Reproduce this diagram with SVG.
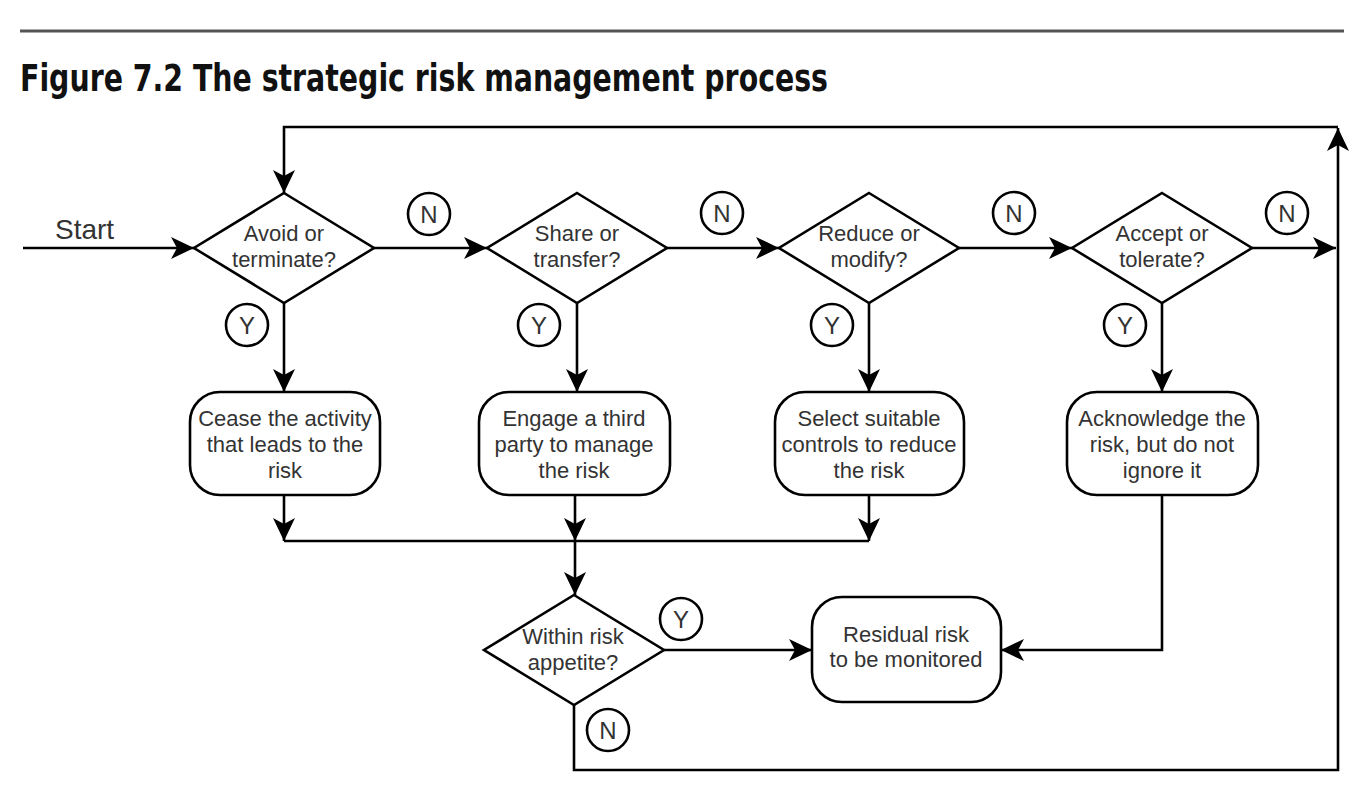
<svg xmlns="http://www.w3.org/2000/svg" width="1364" height="792" viewBox="0 0 1364 792">
<style>
.shape{fill:#fff;stroke:#000;stroke-width:2.6}
.line{fill:none;stroke:#000;stroke-width:2.6}
.arr{marker-end:url(#ah)}
.t{font-family:"Liberation Sans",Arial,sans-serif;font-size:22px;fill:#333;text-anchor:middle}
.lbl{font-family:"Liberation Sans",Arial,sans-serif;font-size:24px;fill:#333;text-anchor:middle}
</style>
<defs>
<marker id="ah" markerUnits="userSpaceOnUse" markerWidth="26" markerHeight="26" viewBox="-24 -12 26 24" refX="0" refY="0" orient="auto">
<path d="M0,0 L-23,-11 L-17,0 L-23,11 Z" fill="#000"/>
</marker>
</defs>
<rect width="1364" height="792" fill="#fff"/>
<line x1="20" y1="31" x2="1344" y2="31" stroke="#555" stroke-width="3"/>
<text x="20" y="91" font-family="'DejaVu Sans Condensed','DejaVu Sans','Liberation Sans',sans-serif" font-weight="bold" font-size="37" fill="#111" textLength="808" lengthAdjust="spacingAndGlyphs">Figure 7.2 The strategic risk management process</text>
<text x="55" y="239" font-family="'Liberation Sans',Arial,sans-serif" font-size="28" fill="#333">Start</text>

<g id="connectors">
<path class="line arr" d="M23,248 H194"/>
<path class="line arr" d="M374,248 H487"/>
<path class="line arr" d="M667,248 H779"/>
<path class="line arr" d="M959,248 H1072"/>
<path class="line arr" d="M1252,248 H1336"/>
<path class="line arr" d="M284,303 V392"/>
<path class="line arr" d="M577,303 V392"/>
<path class="line arr" d="M869,303 V392"/>
<path class="line arr" d="M1162,303 V392"/>
<path class="line arr" d="M284,495 V541"/>
<path class="line arr" d="M575,495 V541"/>
<path class="line arr" d="M869,495 V541"/>
<path class="line" d="M284,541 H869"/>
<path class="line arr" d="M575,541 V595"/>
<path class="line arr" d="M664,650 H812"/>
<path class="line arr" d="M1162,495 V650 H1001"/>
<path class="line arr" d="M574,705 V770 H1338 V128"/>
<path class="line arr" d="M1338,127 H284 V193"/>
</g>

<g id="avoid">
<polygon class="shape" points="284,193 374,248 284,303 194,248"/>
<text class="t" x="284" y="241">Avoid or</text>
<text class="t" x="284" y="267">terminate?</text>
</g>
<g id="share">
<polygon class="shape" points="577,193 667,248 577,303 487,248"/>
<text class="t" x="577" y="241">Share or</text>
<text class="t" x="577" y="267">transfer?</text>
</g>
<g id="reduce">
<polygon class="shape" points="869,193 959,248 869,303 779,248"/>
<text class="t" x="869" y="241">Reduce or</text>
<text class="t" x="869" y="267">modify?</text>
</g>
<g id="accept">
<polygon class="shape" points="1162,193 1252,248 1162,303 1072,248"/>
<text class="t" x="1162" y="241">Accept or</text>
<text class="t" x="1162" y="267">tolerate?</text>
</g>

<g id="cease">
<rect class="shape" x="190" y="392" width="190" height="103" rx="30"/>
<text class="t" x="285" y="426">Cease the activity</text>
<text class="t" x="285" y="452">that leads to the</text>
<text class="t" x="285" y="478">risk</text>
</g>
<g id="engage">
<rect class="shape" x="479" y="392" width="191" height="103" rx="30"/>
<text class="t" x="574" y="426">Engage a third</text>
<text class="t" x="574" y="452">party to manage</text>
<text class="t" x="574" y="478">the risk</text>
</g>
<g id="select">
<rect class="shape" x="775" y="392" width="189" height="103" rx="30"/>
<text class="t" x="869" y="426">Select suitable</text>
<text class="t" x="869" y="452">controls to reduce</text>
<text class="t" x="869" y="478">the risk</text>
</g>
<g id="acknowledge">
<rect class="shape" x="1067" y="392" width="191" height="103" rx="30"/>
<text class="t" x="1162" y="426">Acknowledge the</text>
<text class="t" x="1162" y="452">risk, but do not</text>
<text class="t" x="1162" y="478">ignore it</text>
</g>

<g id="within">
<polygon class="shape" points="574,595 664,650 574,705 484,650"/>
<text class="t" x="573" y="644">Within risk</text>
<text class="t" x="573" y="670">appetite?</text>
</g>
<g id="residual">
<rect class="shape" x="812" y="597" width="189" height="105" rx="30"/>
<text class="t" x="906" y="642">Residual risk</text>
<text class="t" x="906" y="667">to be monitored</text>
</g>

<g id="labels">
<circle class="shape" cx="429" cy="214" r="21"/><text class="lbl" x="429" y="222.5">N</text>
<circle class="shape" cx="722" cy="213" r="21"/><text class="lbl" x="722" y="221.5">N</text>
<circle class="shape" cx="1014" cy="213" r="21"/><text class="lbl" x="1014" y="221.5">N</text>
<circle class="shape" cx="1287" cy="213" r="21"/><text class="lbl" x="1287" y="221.5">N</text>
<circle class="shape" cx="247" cy="325" r="21"/><text class="lbl" x="247" y="333.5">Y</text>
<circle class="shape" cx="539" cy="325" r="21"/><text class="lbl" x="539" y="333.5">Y</text>
<circle class="shape" cx="832" cy="325" r="21"/><text class="lbl" x="832" y="333.5">Y</text>
<circle class="shape" cx="1125" cy="325" r="21"/><text class="lbl" x="1125" y="333.5">Y</text>
<circle class="shape" cx="681" cy="619" r="21"/><text class="lbl" x="681" y="627.5">Y</text>
<circle class="shape" cx="608" cy="730" r="21"/><text class="lbl" x="608" y="738.5">N</text>
</g>
</svg>
